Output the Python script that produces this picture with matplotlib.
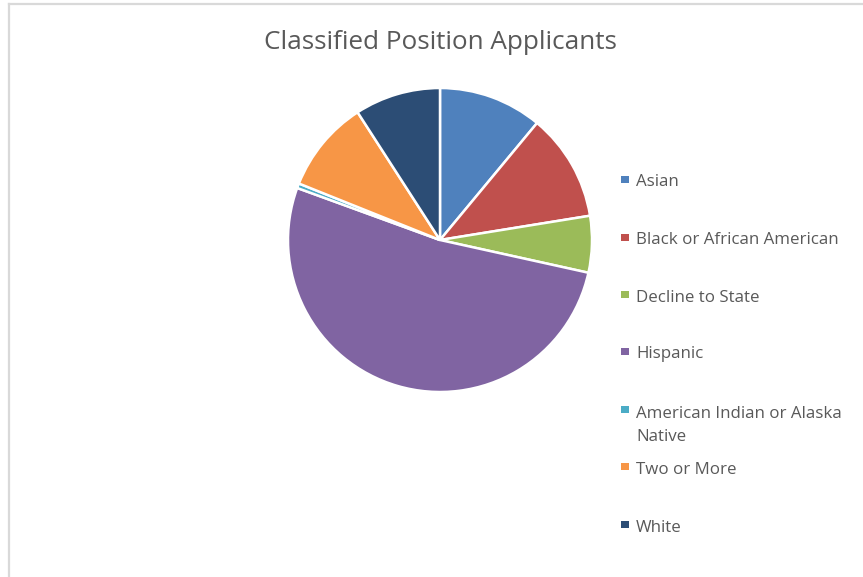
import matplotlib
matplotlib.use("Agg")
import matplotlib.pyplot as plt
from matplotlib.patches import Rectangle
from matplotlib.lines import Line2D

# Applicant shares (percent) by race / ethnicity
categories = [
    "Asian",
    "Black or African American",
    "Decline to State",
    "Hispanic",
    "American Indian or Alaska\nNative",
    "Two or More",
    "White",
]
shares = [11.0, 11.4, 6.0, 52.0, 0.5, 9.8, 9.1]
colors = ["#4F81BD", "#C0504D", "#9BBB59", "#8064A2", "#4BACC6", "#F79646", "#2C4D75"]

title = "Classified Position Applicants"

W, H = 863, 577
fig = plt.figure(figsize=(W / 100, H / 100), dpi=100)
fig.patch.set_facecolor("white")

text_color = "#595959"
font = "Open Sans"

# chart border (left and top edges visible)
fig.add_artist(Line2D([9 / W, 9 / W], [0, 1 - 4 / H], transform=fig.transFigure,
                      color="#D9D9D9", lw=1.6))
fig.add_artist(Line2D([9 / W, 1], [1 - 4 / H, 1 - 4 / H], transform=fig.transFigure,
                      color="#D9D9D9", lw=1.6))

# pie
cx, cy, r = 440, 240, 152
ax = fig.add_axes([(cx - r) / W, (H - cy - r) / H, 2 * r / W, 2 * r / H])
ax.pie(shares, colors=colors, startangle=90, counterclock=False, radius=1,
       wedgeprops=dict(edgecolor="white", linewidth=1.8))
ax.set_xlim(-1, 1)
ax.set_ylim(-1, 1)
ax.set_aspect("equal")
ax.axis("off")

fig.text(440 / W, 1 - 48.7 / H, title, ha="center", va="baseline",
         fontsize=18.8, color=text_color, family=font)

# legend: one slot per category; wrapped labels continue below the first line
legend_y = [179, 237, 294, 351, 409, 466, 524]
line_gap = 24.3
for cat, col, y in zip(categories, colors, legend_y):
    fig.add_artist(Rectangle((621 / W, 1 - (y + 3.5) / H), 8 / W, 7 / H,
                             transform=fig.transFigure, color=col, lw=0))
    n_lines = cat.count("\n") + 1
    base = y + 7.5 + (n_lines - 1) * line_gap
    fig.text(636 / W, 1 - base / H, cat, ha="left", va="baseline",
             fontsize=12.2, color=text_color, family=font, linespacing=1.57)

fig.savefig("out.png", dpi=100)
